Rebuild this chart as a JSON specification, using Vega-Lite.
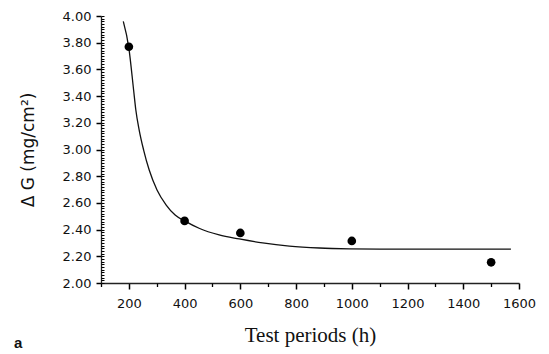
{
  "$schema": "https://vega.github.io/schema/vega-lite/v6.json",
  "width": 418,
  "height": 267,
  "autosize": "none",
  "padding": {"left": 101, "top": 16, "right": 30, "bottom": 71},
  "background": "white",
  "config": {"view": {"stroke": null}},
  "title": {"text": "a", "orient": "bottom", "anchor": "start", "frame": "bounds", "font": "Liberation Sans", "fontWeight": "bold", "fontSize": 15, "color": "#111", "offset": 0, "dy": -9, "dx": -5},
  "datasets": {
    "curve": [
      {"t": 180, "g": 3.96},
      {"t": 200, "g": 3.76},
      {"t": 217, "g": 3.446},
      {"t": 225, "g": 3.296},
      {"t": 237, "g": 3.146},
      {"t": 253, "g": 2.996},
      {"t": 273, "g": 2.846},
      {"t": 301, "g": 2.697},
      {"t": 334, "g": 2.584},
      {"t": 366, "g": 2.509},
      {"t": 400, "g": 2.465},
      {"t": 452, "g": 2.41},
      {"t": 524, "g": 2.36},
      {"t": 596, "g": 2.33},
      {"t": 680, "g": 2.30},
      {"t": 776, "g": 2.276},
      {"t": 884, "g": 2.262},
      {"t": 992, "g": 2.256},
      {"t": 1100, "g": 2.254},
      {"t": 1571, "g": 2.253}
    ],
    "points": [
      {"t": 200, "g": 3.77},
      {"t": 400, "g": 2.465},
      {"t": 600, "g": 2.375},
      {"t": 1000, "g": 2.315},
      {"t": 1500, "g": 2.155}
    ]
  },
  "resolve": {"axis": {"x": "independent", "y": "independent"}},
  "layer": [
    {
      "data": {"name": "curve"},
      "mark": {"type": "line", "color": "#111", "strokeWidth": 1.3, "interpolate": "monotone"},
      "encoding": {
        "x": {"field": "t", "type": "quantitative", "scale": {"domain": [100, 1600], "nice": false, "zero": false},
          "axis": {"orient": "bottom", "values": [200, 400, 600, 800, 1000, 1200, 1400, 1600], "format": "d", "labelOverlap": false, "labelBound": false, "labelFlush": false, "title": "Test periods (h)", "grid": false,
            "domainColor": "#222", "domainWidth": 1.3, "ticks": true, "tickColor": "#000", "tickWidth": 1.5, "tickSize": 6,
            "labelFont": "DejaVu Sans", "labelFontSize": 13, "labelColor": "#111", "labelPadding": 8,
            "titleFont": "Liberation Serif", "titleFontSize": 21, "titleFontWeight": "normal", "titleColor": "#111", "titlePadding": 14}},
        "y": {"field": "g", "type": "quantitative", "scale": {"domain": [2, 4], "nice": false, "zero": false},
          "axis": {"orient": "left", "values": [2, 2.2, 2.4, 2.6, 2.8, 3, 3.2, 3.4, 3.6, 3.8, 4], "format": ".2f", "labelOverlap": false, "labelBound": false, "labelFlush": false, "title": "Δ G (mg/cm²)", "grid": false,
            "domainColor": "#222", "domainWidth": 1.3, "ticks": true, "tickColor": "#000", "tickWidth": 1.5, "tickSize": 5,
            "labelFont": "DejaVu Sans", "labelFontSize": 13, "labelColor": "#111", "labelPadding": 5,
            "titleFont": "DejaVu Sans", "titleFontSize": 17, "titleFontWeight": "normal", "titleColor": "#111", "titlePadding": 25}}
      }
    },
    {
      "data": {"name": "points"},
      "mark": {"type": "point", "opacity": 0},
      "encoding": {
        "x": {"field": "t", "type": "quantitative", "scale": {"domain": [100, 1600], "nice": false, "zero": false},
          "axis": {"orient": "bottom", "values": [100, 300, 500, 700, 900, 1100, 1300, 1500], "labels": false, "title": null, "domain": false, "grid": false, "ticks": true, "tickSize": 3.5, "tickColor": "#000", "tickWidth": 1.3}},
        "y": {"field": "g", "type": "quantitative", "scale": {"domain": [2, 4], "nice": false, "zero": false},
          "axis": {"orient": "left", "tickCount": 100, "labels": false, "title": null, "domain": false, "grid": false, "ticks": true, "tickSize": -3, "tickColor": "#000", "tickWidth": 1}}
      }
    },
    {
      "data": {"name": "points"},
      "mark": {"type": "circle", "color": "#000", "opacity": 1, "size": 75},
      "encoding": {
        "x": {"field": "t", "type": "quantitative", "scale": {"domain": [100, 1600], "nice": false, "zero": false}, "axis": null},
        "y": {"field": "g", "type": "quantitative", "scale": {"domain": [2, 4], "nice": false, "zero": false}, "axis": null}
      }
    }
  ]
}
